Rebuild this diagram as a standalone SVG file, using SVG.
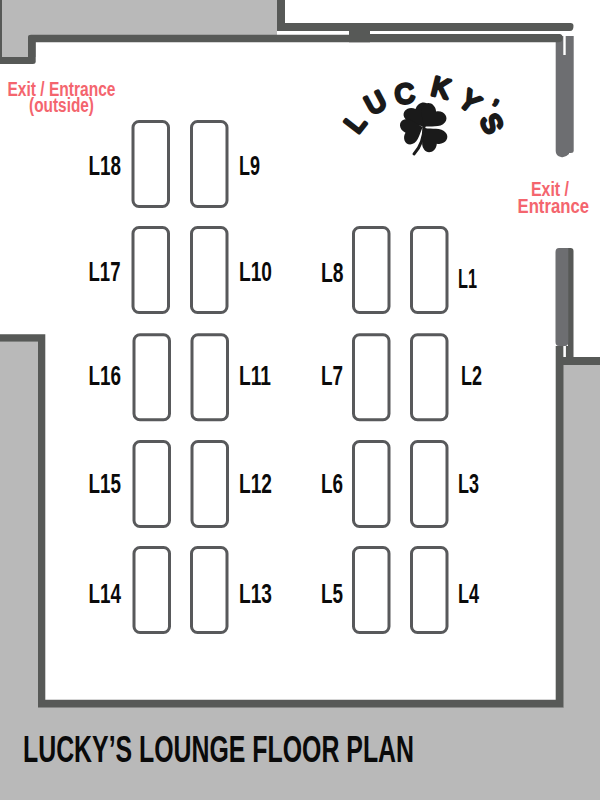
<svg xmlns="http://www.w3.org/2000/svg" width="600" height="800" viewBox="0 0 600 800">
<style>
.t{fill:#fff;stroke:#58595b;stroke-width:3}
.w{fill:#575957}
.g{fill:#b9b9b9}
.d{fill:#6d6e71}
.s{fill:#fff}
text{font-family:"Liberation Sans",sans-serif;font-weight:700}
.l{font-size:27px;fill:#0a0a0a}
.e{font-size:20px;fill:#f4656e}
.k{font-size:27px;font-weight:400;fill:#1a1a1a;stroke:#1a1a1a;stroke-width:3.4;stroke-linejoin:round;text-anchor:middle}
.c{fill:#1a1a1a}
</style>
<defs>
<rect id="tb" class="t" width="35.5" height="85" rx="6"/>
<path id="lf" d="M0 0C-4 -5 -14 -9 -14 -17C-14 -24 -5 -26 0 -20C5 -26 14 -24 14 -17C14 -9 4 -5 0 0Z"/>
</defs>
<rect width="600" height="800" fill="#fff"/>
<g id="plan">
<path class="g" d="M0 0H277V35H36V57H0Z"/>
<path class="g" d="M0 342H38V707H564V365H600V800H0Z"/>
<path class="w" d="M0 0H2V57H28V37Q28 34.700 31 34.700H277V0H285V31H277V34.700H349V31H370V42.300H35.700V62Q35.700 64 33 64H0Z"/>
<path class="w" d="M0 334.300H45.300V699.700H555.700V346H563.700V357H600V365H563.700V707.500H38V341.700H0Z"/>
<path class="d" d="M555.700 36H573.700V151Q573.700 153 571 153H569V154Q565 158 561 157Q555.700 156 555.700 151Z"/>
<path class="w" d="M285 23H570.500Q573.500 23 573.500 26Q573.500 31 570 31H285Z"/>
<path class="w" d="M349 34H560Q562.700 34.500 562.700 38Q562.700 42.300 558 42.300H349Z"/>
<rect class="s" x="285" y="31" width="64" height="3"/>
<rect class="s" x="370" y="31" width="195.700" height="3"/>
<rect class="s" x="563.300" y="31" width="2.400" height="24"/>
<path class="w" d="M568 248H570.500Q573.500 248 573.500 251V357H565.700V346H568Z"/>
<path class="d" d="M555.500 252Q555.500 248 559 248H568.300V342Q568.300 346 565 346H559Q555.500 346 555.500 342Z"/>
<rect class="s" x="563.500" y="346" width="2.200" height="11"/>
</g>
<g id="tables">
<use href="#tb" x="133" y="121.500"/><use href="#tb" x="191.500" y="121.500"/>
<use href="#tb" x="133" y="227.500"/><use href="#tb" x="191.500" y="227.500"/><use href="#tb" x="353.500" y="227.500"/><use href="#tb" x="411.500" y="227.500"/>
<use href="#tb" x="134" y="334.800"/><use href="#tb" x="192" y="334.800"/><use href="#tb" x="353.500" y="334.800"/><use href="#tb" x="411.500" y="334.800"/>
<use href="#tb" x="134" y="441.500"/><use href="#tb" x="192" y="441.500"/><use href="#tb" x="353.500" y="441.500"/><use href="#tb" x="411.500" y="441.500"/>
<use href="#tb" x="134" y="547.500"/><use href="#tb" x="191.500" y="547.500"/><use href="#tb" x="353.500" y="547.500"/><use href="#tb" x="411.500" y="547.500"/>
</g>
<g id="labels">
<text class="l" x="88.500" y="175" textLength="32.500" lengthAdjust="spacingAndGlyphs">L18</text>
<text class="l" x="239" y="175" textLength="21" lengthAdjust="spacingAndGlyphs">L9</text>
<text class="l" x="88.500" y="281" textLength="32" lengthAdjust="spacingAndGlyphs">L17</text>
<text class="l" x="239" y="281" textLength="33" lengthAdjust="spacingAndGlyphs">L10</text>
<text class="l" x="321" y="282" textLength="22.500" lengthAdjust="spacingAndGlyphs">L8</text>
<text class="l" x="458" y="288" textLength="19" lengthAdjust="spacingAndGlyphs">L1</text>
<text class="l" x="88.500" y="385" textLength="32.500" lengthAdjust="spacingAndGlyphs">L16</text>
<text class="l" x="239" y="385" textLength="32" lengthAdjust="spacingAndGlyphs">L11</text>
<text class="l" x="321" y="385" textLength="22" lengthAdjust="spacingAndGlyphs">L7</text>
<text class="l" x="461" y="385" textLength="21" lengthAdjust="spacingAndGlyphs">L2</text>
<text class="l" x="88.500" y="493" textLength="32.500" lengthAdjust="spacingAndGlyphs">L15</text>
<text class="l" x="239" y="493" textLength="33" lengthAdjust="spacingAndGlyphs">L12</text>
<text class="l" x="321" y="493" textLength="22" lengthAdjust="spacingAndGlyphs">L6</text>
<text class="l" x="458" y="493" textLength="21" lengthAdjust="spacingAndGlyphs">L3</text>
<text class="l" x="88.500" y="603" textLength="32.500" lengthAdjust="spacingAndGlyphs">L14</text>
<text class="l" x="239" y="603" textLength="33" lengthAdjust="spacingAndGlyphs">L13</text>
<text class="l" x="321" y="603" textLength="22" lengthAdjust="spacingAndGlyphs">L5</text>
<text class="l" x="458" y="603" textLength="21" lengthAdjust="spacingAndGlyphs">L4</text>
<text x="23" y="762" font-size="37.500" fill="#0a0a0a" textLength="391" lengthAdjust="spacingAndGlyphs">LUCKY’S LOUNGE FLOOR PLAN</text>
<text class="e"><tspan x="7.500" y="96" textLength="108" lengthAdjust="spacingAndGlyphs">Exit / Entrance</tspan><tspan x="29" y="112" textLength="65" lengthAdjust="spacingAndGlyphs">(outside)</tspan></text>
<text class="e"><tspan x="531" y="195.500" textLength="38" lengthAdjust="spacingAndGlyphs">Exit /</tspan><tspan x="517.500" y="213" textLength="71.500" lengthAdjust="spacingAndGlyphs">Entrance</tspan></text>
</g>
<g id="logo">
<text class="k" transform="translate(355 123) rotate(-52)" y="9.500">L</text>
<text class="k" transform="translate(375.500 102.500) rotate(-28)" y="9.500">U</text>
<text class="k" transform="translate(404.500 93.500) rotate(-8)" y="9.500">C</text>
<text class="k" transform="translate(441 87.500) rotate(14)" y="9.500">K</text>
<text class="k" transform="translate(470 101) rotate(38)" y="9.500">Y</text>
<text class="k" transform="translate(497 100) rotate(25)" y="17" style="font-size:24px;stroke-width:3">’</text>
<text class="k" transform="translate(491.500 123.500) rotate(65)" y="9">S</text>
<use href="#lf" class="c" transform="translate(423.500 127) rotate(-24) scale(.98)"/>
<use href="#lf" class="c" transform="translate(424 127) rotate(38) scale(.98)"/>
<use href="#lf" class="c" transform="translate(423 127) rotate(-108) scale(.92)"/>
<use href="#lf" class="c" transform="translate(425 128) rotate(143) scale(.98)"/>
<path fill="none" stroke="#1a1a1a" stroke-width="3" stroke-linecap="round" d="M424 126Q424 143 414 154"/>
</g>
</svg>
